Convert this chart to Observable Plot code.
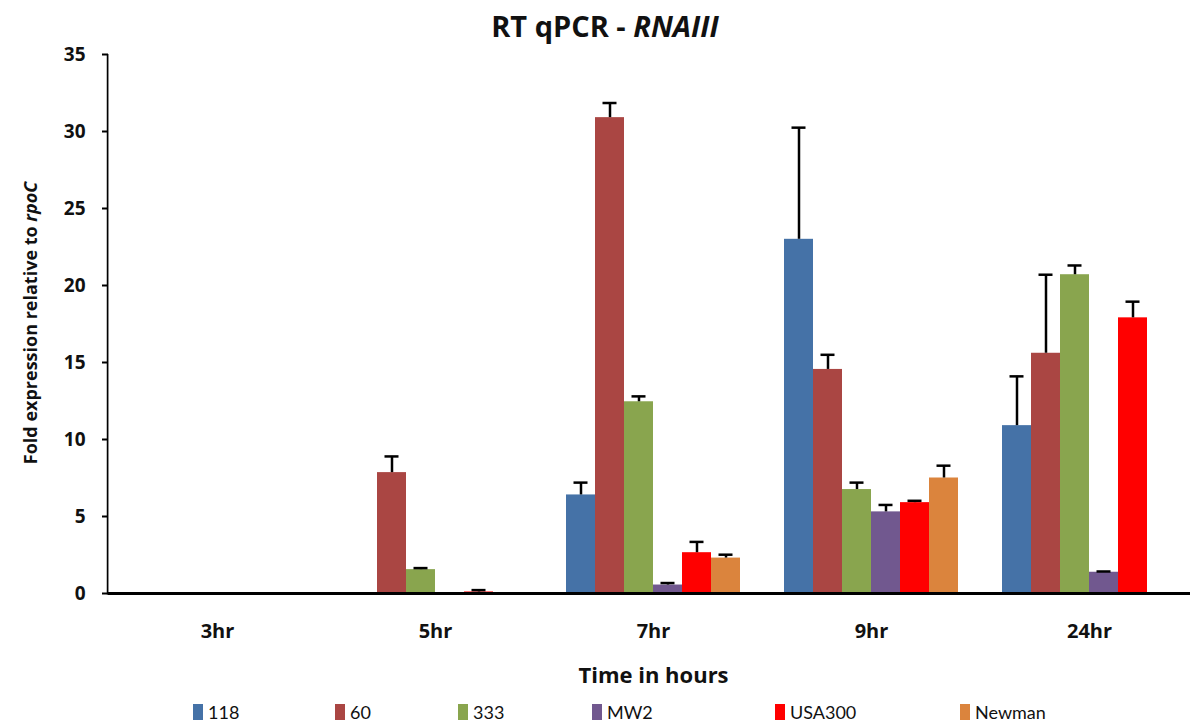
<!DOCTYPE html>
<html>
<head>
<meta charset="utf-8">
<script src="https://cdn.jsdelivr.net/npm/d3@7"></script>
<script src="https://cdn.jsdelivr.net/npm/@observablehq/plot@0.6"></script>
<style>
  html, body { margin: 0; padding: 0; background: #fff; overflow: hidden; }
  #wrap { position: relative; width: 1190px; height: 726px; overflow: hidden; font-family: "Open Sans", Lato, sans-serif; }
  #title { position: absolute; left: 0; top: 9px; width: 1210px; text-align: center; font-size: 29px; font-weight: bold; color: #111; line-height: 34px; }
  #ylabel { position: absolute; left: 30px; top: 323px; transform: translate(-50%, -50%) rotate(-90deg); white-space: nowrap; font-size: 18px; font-weight: bold; color: #111; }
  #chart { position: absolute; left: 0; top: 34px; width: 1200px; }
  #chart svg { max-width: none !important; }
  #legend { position: absolute; left: 0; top: 700px; width: 1190px; height: 26px; font-family: Lato, sans-serif; }
  .item { position: absolute; top: 0; display: flex; align-items: center; font-size: 18px; color: #111; height: 24px; }
  .sw { width: 10px; height: 16px; margin-right: 5px; }
  #chart svg text { font-weight: bold; }
</style>
</head>
<body>
<div id="wrap">
  <div id="title">RT qPCR - <i>RNAIII</i></div>
  <div id="ylabel">Fold expression relative to <i>rpoC</i></div>
  <div id="chart"></div>
  <div id="legend"></div>
</div>
<script>
// ---- data ----
const times = ["3hr", "5hr", "7hr", "9hr", "24hr"];
const strains = ["118", "60", "333", "MW2", "USA300", "Newman"];
const colors = ["#4572A7", "#AA4643", "#89A54E", "#71588F", "#FF0000", "#DB843D"];
// values per strain across times (null = no bar)
const v118    = [null, null, 6.4, 23.0, 10.9];
const v60     = [null, 7.85, 30.9, 14.55, 15.6];
const v333    = [null, 1.55, 12.45, 6.75, 20.7];
const vMW2    = [null, null, 0.55, 5.3, 1.38];
const vUSA300 = [null, 0.1, 2.65, 5.9, 17.9];
const vNewman = [null, null, 2.3, 7.5, null];
// error (upper) per strain across times
const e118    = [null, null, 0.8, 7.25, 3.2];
const e60     = [null, 1.05, 0.95, 0.95, 5.1];
const e333    = [null, 0.1, 0.35, 0.45, 0.6];
const eMW2    = [null, null, 0.13, 0.45, 0.05];
const eUSA300 = [null, 0.12, 0.7, 0.12, 1.05];
const eNewman = [null, null, 0.22, 0.8, null];
const yTicks = [0, 5, 10, 15, 20, 25, 30, 35];

const valueSets = [v118, v60, v333, vMW2, vUSA300, vNewman];
const errSets = [e118, e60, e333, eMW2, eUSA300, eNewman];
const rows = [];
strains.forEach((s, j) => {
  times.forEach((t, i) => {
    const v = valueSets[j][i];
    if (v != null) rows.push({time: t, strain: s, value: v, hi: v + (errSets[j][i] || 0)});
  });
});
const facetRows = times.map(t => ({time: t}));

const W = 1200, ML = 106, MR = 0;
const facetW = (W - ML - MR) / times.length;

const plot = Plot.plot({
  width: W,
  height: 659,
  marginTop: 20,
  marginBottom: 100,
  marginLeft: ML,
  marginRight: MR,
  style: {fontFamily: "'Open Sans', Lato, sans-serif", fontSize: "19px", color: "#111", background: "transparent"},
  fx: {domain: times, padding: 0, label: null},
  x: {domain: strains, paddingInner: 0, paddingOuter: 0.75, axis: null},
  y: {domain: [0, 35], label: null, axis: null},
  color: {domain: strains, range: colors},
  marks: [
    Plot.barY(rows, {fx: "time", x: "strain", y: "value", fill: "strain"}),
    Plot.ruleX(rows, {fx: "time", x: "strain", y1: "value", y2: "hi", stroke: "#000", strokeWidth: 2.5}),
    Plot.tickY(rows, {fx: "time", x: "strain", y: "hi", stroke: "#000", strokeWidth: 2.5, insetLeft: 7.5, insetRight: 7.5}),
    Plot.ruleY(facetRows, {fx: "time", y: 0, stroke: "#000", strokeWidth: 3}),
    // vertical y-axis line on the first facet
    Plot.rect(facetRows.slice(0, 1), {fx: "time", y1: 0, y2: 35, fill: "#000", insetLeft: -1.25, insetRight: facetW - 1.25, insetBottom: -1.5}),
    Plot.axisY({ticks: yTicks, tickSize: 6, tickPadding: 17, stroke: "#000", strokeWidth: 2, fontSize: 19, label: null, facetAnchor: "left"}),
    Plot.axisFx({anchor: "bottom", tickSize: 0, tickPadding: 30, fontSize: 20, label: "Time in hours", labelAnchor: "center", labelOffset: 89}),
  ]
});
document.getElementById("chart").appendChild(plot);
d3.select(plot).selectAll("g[aria-label='fx-axis label'], g[aria-label='fx-axis label'] text").style("font-size", "22px");

// legend
const legendX = [193, 335, 458, 592, 775, 960];
const legend = document.getElementById("legend");
strains.forEach((s, j) => {
  const d = document.createElement("div");
  d.className = "item";
  d.style.left = legendX[j] + "px";
  d.innerHTML = `<span class="sw" style="background:${colors[j]}"></span><span>${s}</span>`;
  legend.appendChild(d);
});
</script>
</body>
</html>
